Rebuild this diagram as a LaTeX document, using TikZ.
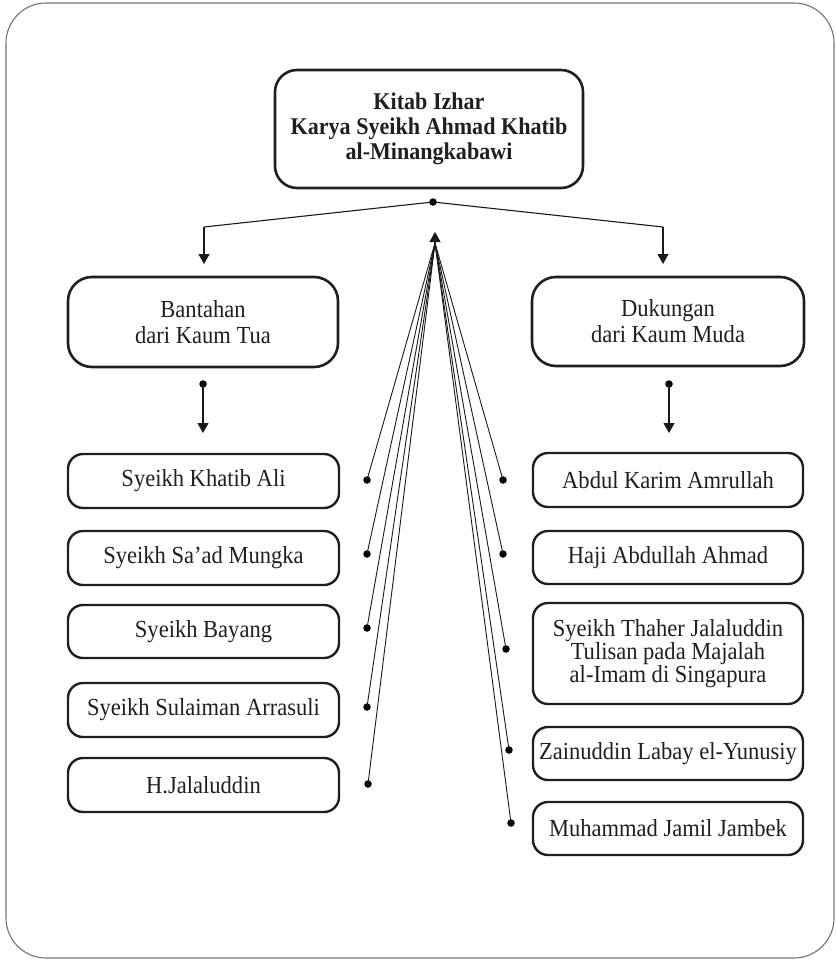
\documentclass[tikz,border=0pt]{standalone}
\usepackage{fontspec}
\setmainfont[FakeStretch=0.92]{Liberation Serif}
\usetikzlibrary{arrows.meta}
\begin{document}
\begin{tikzpicture}[x=1pt,y=-1pt,
  frame/.style={draw=black!55,line width=1.1pt,rounded corners=40pt},
  bigbox/.style={draw=black!88,line width=2.6pt,rounded corners=24pt,inner sep=0pt,
    align=center,text=black!88,font=\fontsize{24.5}{26}\selectfont},
  itembox/.style={draw=black!88,line width=2.4pt,rounded corners=15pt,inner sep=0pt,
    align=center,text=black!88,font=\fontsize{24.5}{21.5}\selectfont},
  link/.style={draw=black!90,line width=1.1pt},
  tip/.style={-{Triangle[width=11pt,length=10pt]}},
  dot/.style={circle,fill=black,inner sep=0pt,minimum size=7.5pt}]
\useasboundingbox (0,0) rectangle (835,960);
\draw[frame] (6,3) rectangle (834,958);

% main title box
\node[bigbox,rounded corners=22pt,minimum width=308pt,minimum height=118pt,
      font=\bfseries\fontsize{24}{25}\selectfont] (kitab) at (429,129)
  {Kitab Izhar\\Karya Syeikh Ahmad Khatib\\al-Minangkabawi};

% the two camps
\node[bigbox,minimum width=270pt,minimum height=90pt] (tua) at (203,322)
  {Bantahan\\dari Kaum Tua};
\node[bigbox,minimum width=272pt,minimum height=89pt] (muda) at (668,321.5)
  {Dukungan\\dari Kaum Muda};

% Kaum Tua
\node[itembox,minimum width=271pt,minimum height=54pt] (t1) at (203.5,481) {Syeikh Khatib Ali};
\node[itembox,minimum width=271pt,minimum height=54pt] (t2) at (203.5,558) {Syeikh Sa’ad Mungka};
\node[itembox,minimum width=271pt,minimum height=53pt] (t3) at (203.5,631.5) {Syeikh Bayang};
\node[itembox,minimum width=271pt,minimum height=54pt] (t4) at (203.5,710) {Syeikh Sulaiman Arrasuli};
\node[itembox,minimum width=271pt,minimum height=54pt] (t5) at (203.5,785) {H.Jalaluddin};

% Kaum Muda
\node[itembox,minimum width=270pt,minimum height=54pt] (m1) at (668,480) {Abdul Karim Amrullah};
\node[itembox,minimum width=270pt,minimum height=53pt] (m2) at (668,557.5) {Haji Abdullah Ahmad};
\node[itembox,minimum width=270pt,minimum height=101pt] (m3) at (668,653.5)
  {Syeikh Thaher Jalaluddin\\Tulisan pada Majalah\\al-Imam di Singapura};
\node[itembox,minimum width=270pt,minimum height=53pt] (m4) at (668,753.5) {Zainuddin Labay el-Yunusiy};
\node[itembox,minimum width=270pt,minimum height=53pt] (m5) at (668,828.5) {Muhammad Jamil Jambek};

% branching from the title
\node[dot] (top) at (433,202) {};
\coordinate (lcorner) at (204,227);
\coordinate (rcorner) at (663,227);
\coordinate (ltip) at (204,264);
\coordinate (rtip) at (663,264);
\draw[link] (top.center) -- (lcorner);
\draw[link] (top.center) -- (rcorner);
\draw[link,tip] (lcorner) -- (ltip);
\draw[link,tip] (rcorner) -- (rtip);

% arrows into the lists
\node[dot] (tdot) at (203,384) {};
\node[dot] (mdot) at (669,384) {};
\coordinate (tlist) at (203,433);
\coordinate (mlist) at (669,433);
\draw[link,tip] (tdot.center) -- (tlist);
\draw[link,tip] (mdot.center) -- (mlist);

% fan of references back to the title
\coordinate (hub) at (435,243);
\coordinate (hubtip) at (435,232);
\draw[link,tip] (hub) -- (hubtip);
\node[dot] (dt1) at (367,480) {};
\node[dot] (dt2) at (367,554) {};
\node[dot] (dt3) at (367,628) {};
\node[dot] (dt4) at (367,707) {};
\node[dot] (dt5) at (368,784) {};
\node[dot] (dm1) at (503,480) {};
\node[dot] (dm2) at (503,554) {};
\node[dot] (dm3) at (506,649) {};
\node[dot] (dm4) at (509,750) {};
\node[dot] (dm5) at (511,823) {};
\foreach \d in {dt1,dt2,dt3,dt4,dt5,dm1,dm2,dm3,dm4,dm5}
  \draw[link,line width=0.9pt] (\d.center) -- (hub);
\end{tikzpicture}
\end{document}
